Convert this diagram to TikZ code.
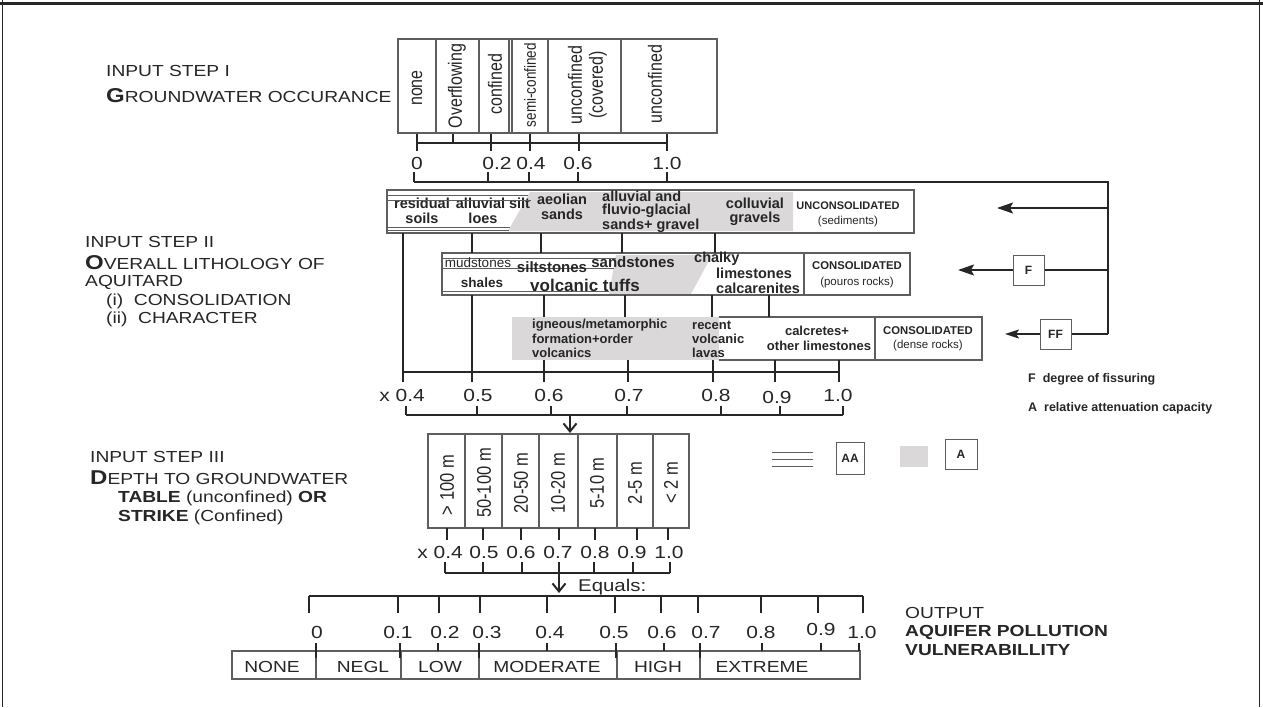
\documentclass[tikz,border=0pt]{standalone}
\usepackage{fontspec}
\setmainfont{Liberation Sans}
\newfontfamily\lab[FakeStretch=1.2]{Liberation Sans}
\usetikzlibrary{arrows.meta}
\definecolor{ink}{HTML}{262626}
\definecolor{boxc}{HTML}{5E5E5E}
\definecolor{greyfill}{HTML}{DAD8D8}
\newcommand\sz[1]{\fontsize{#1pt}{#1pt}\selectfont}
\newcommand\tall[1]{\scalebox{1}[1.2]{#1}}
\tikzset{
  lbl/.style={anchor=west, font=\lab\sz{16}},
  num/.style={font=\lab\sz{17.5}},
  cat/.style={font=\lab\sz{16}},
  rot/.style={rotate=90, font=\sz{16}},
  rotb/.style={rotate=90, font=\sz{16.5}},
  bx/.style={font=\bfseries\sz{14.5}},
  bxw/.style={anchor=west, font=\bfseries\sz{14.5}},
  conn/.style={draw=ink, line width=2pt},
  thinbox/.style={draw=boxc, line width=1.1pt},
  hatch/.style={draw=boxc, line width=0.8pt},
  legbox/.style={draw=boxc, line width=1pt, fill=white, minimum width=31pt, minimum height=30pt, font=\bfseries\sz{12}},
  lefttip/.style={-{Stealth[length=16pt,width=11pt,inset=3pt]}},
  downtip/.style={-{Straight Barb[length=8pt,width=13pt]}}
}
\begin{document}
\begin{tikzpicture}[x=1pt,y=-1pt, every node/.style={inner sep=0pt, text=ink}]
\useasboundingbox (0,0) rectangle (1263,707);
\fill[white] (0,0) rectangle (1263,707);
% frame
\draw[ink,line width=3pt] (0,3) -- (1263,3);
\draw[ink,line width=1pt] (2,0) -- (2,707);
\draw[ink,line width=1pt] (1259,0) -- (1259,707);

% ---------------- left labels
\node[lbl] (s1a) at (106,71) {INPUT STEP I};
\node[lbl] (s1b) at (106,96) {{\bfseries\sz{20}G}ROUNDWATER OCCURANCE};
\node[lbl] (s2a) at (85,242) {INPUT STEP II};
\node[lbl] (s2b) at (85,263) {{\bfseries\sz{20}O}VERALL LITHOLOGY OF};
\node[lbl] (s2c) at (85,282) {AQUITARD};
\node[lbl] (s2d) at (106,301) {(i)\ \ CONSOLIDATION};
\node[lbl] (s2e) at (106,319) {(ii)\ \ CHARACTER};
\node[lbl] (s3a) at (90,457) {INPUT STEP III};
\node[lbl] (s3b) at (90,478) {{\bfseries\sz{20}D}EPTH TO GROUNDWATER};
\node[lbl] (s3c) at (118,498) {\textbf{TABLE} (unconfined) \textbf{OR}};
\node[lbl] (s3d) at (118,517) {\textbf{STRIKE} (Confined)};
\node[lbl] (o1) at (905,613) {OUTPUT};
\node[lbl] (o2) at (905,632) {\textbf{AQUIFER POLLUTION}};
\node[lbl] (o3) at (905,650) {\textbf{VULNERABILLITY}};

% ---------------- step I
\draw[thinbox] (398,39) rectangle (717,133);
\foreach \x in {436,479,509,512,548,621} \draw[thinbox] (\x,39) -- (\x,133);
\node[rot] (g1) at (417,88) {\tall{none}};
\node[rot] (g2) at (457,86) {\tall{Overflowing}};
\node[rot] (g3) at (495,84) {\tall{confined}};
\node[rot, font=\sz{13.5}] (g4) at (530,85) {\tall{semi-confined}};
\node[rot] (g5a) at (575,85) {\tall{unconfined}};
\node[rot] (g5b) at (598,85) {\tall{(covered)}};
\node[rot] (g6) at (655,84) {\tall{unconfined}};
\draw[conn] (417,143) -- (667,143);
\foreach \x in {417,491,530,579,667} \draw[conn] (\x,134) -- (\x,151);
\draw[conn] (453,134) -- (453,143);
\node[num] (a0) at (417,163) {0};
\node[num] (a2) at (497,163) {0.2};
\node[num] (a4) at (531,163) {0.4};
\node[num] (a6) at (578,163) {0.6};
\node[num] (a10) at (667,163) {1.0};
\draw[conn] (414,182) -- (1108,182);
\draw[ink,line width=2.5pt] (1107,182) -- (1108,182) -- (1108,334);
\foreach \x in {414,488,529,578,667} \draw[conn] (\x,172) -- (\x,182);

% feedback arrows
\coordinate (fa) at (1108,208);
\coordinate (fb) at (1108,270);
\coordinate (fc) at (1108,334);
\coordinate (ta) at (997,208);
\coordinate (tb) at (958,270);
\coordinate (tc) at (1005,334);
\node[legbox] (Fb) at (1028.5,270) {F};
\node[legbox] (FFb) at (1055.5,334) {FF};
\draw[conn,lefttip] (fa) -- (ta);
\draw[conn] (fb) -- (Fb.east);
\draw[conn,lefttip] (Fb.west) -- (tb);
\draw[conn] (fc) -- (FFb.east);
\draw[conn,-{Stealth[length=14pt,width=9pt,inset=3pt]}] (FFb.west) -- (tc);

% legend
\node[anchor=west, font=\bfseries\sz{12.5}] (lgF) at (1028,379) {F\ \ degree of fissuring};
\node[anchor=west, font=\bfseries\sz{12.5}] (lgA) at (1028,408) {A\ \ relative attenuation capacity};
\draw[hatch] (772,452) -- (813,452);
\draw[hatch] (772,459) -- (813,459);
\draw[hatch] (772,466) -- (813,466);
\node[legbox, minimum width=28pt, minimum height=32pt] (AAb) at (850,458) {AA};
\fill[greyfill] (900,446) rectangle (928,467);
\node[legbox, minimum width=32pt, minimum height=30pt] (Ab) at (961,454) {A};

% ---------------- step II : unconsolidated
\fill[greyfill] (530,192) -- (793,192) -- (793,231) -- (508,231) -- cycle;
\draw[thinbox] (387,190) rectangle (914,233);
\draw[hatch] (387,195) -- (528,195);
\draw[hatch] (387,227) -- (510,227);
\draw[hatch] (387,230) -- (509,230);
\node[bx] (u1) at (422,203) {residual};
\node[bx] (u2) at (422,218) {soils};
\node[bx] (u3) at (493,203) {alluvial silt};
\draw[hatch] (387,200) -- (531,200);
\node[bx] (u4) at (483,218) {loes};
\node[bx] (u5) at (562,199) {aeolian};
\node[bx] (u6) at (562,214) {sands};
\node[bxw] (u7) at (602,196) {alluvial and};
\node[bxw] (u8) at (602,211) {fluvio-glacial};
\node[bxw] (u9) at (602,226) {sands+ gravel};
\node[bx] (u10) at (755,203) {colluvial};
\node[bx] (u11) at (755,219) {gravels};
\node[font=\bfseries\sz{11}] (u12) at (848,206) {UNCONSOLIDATED};
\node[font=\sz{11.5}] (u13) at (848,222) {(sediments)};

% consolidated porous
\fill[greyfill] (616,255) -- (712,255) -- (691,294) -- (609,294) -- cycle;
\draw[thinbox] (442,253) rectangle (910,295);
\draw[thinbox] (804,253) -- (804,295);
\draw[hatch] (442,258) -- (616,258);
\draw[hatch] (442,268) -- (614,268);
\draw[hatch] (442,291) -- (609,291);
\node[font=\sz{13.5}] (c1) at (478,263) {mudstones};
\node[font=\bfseries\sz{15}] (c2) at (552,267) {siltstones};
\node[font=\bfseries\sz{15}] (c3) at (633,262) {sandstones};
\node[bxw] (c4) at (694,259) {chalky};
\node[bxw] (c5) at (716,273) {limestones};
\node[bxw] (c6) at (716,288) {calcarenites};
\node[font=\bfseries\sz{13.5}] (c7) at (482,283) {shales};
\node[font=\bfseries\sz{17}] (c8) at (585,285) {volcanic tuffs};
\node[font=\bfseries\sz{11.3}] (c9) at (857,266) {CONSOLIDATED};
\node[font=\sz{11.5}] (c10) at (857,283) {(pouros rocks)};

% consolidated dense
\fill[greyfill] (512,317) rectangle (719,360);
\draw[thinbox] (719,317) -- (982,317) -- (982,360) -- (719,360);
\draw[thinbox] (875,317) -- (875,360);
\node[anchor=west,font=\bfseries\sz{13}] (d1) at (532,325) {igneous/metamorphic};
\node[anchor=west,font=\bfseries\sz{13}] (d2) at (532,339) {formation+order};
\node[anchor=west,font=\bfseries\sz{13}] (d3) at (532,353) {volcanics};
\node[anchor=west,font=\bfseries\sz{13}] (d4) at (692,325) {recent};
\node[anchor=west,font=\bfseries\sz{13}] (d5) at (692,339) {volcanic};
\node[anchor=west,font=\bfseries\sz{13}] (d6) at (692,353) {lavas};
\node[font=\bfseries\sz{13}] (d7) at (817,331) {calcretes+};
\node[font=\bfseries\sz{13}] (d8) at (819,346) {other limestones};
\node[font=\bfseries\sz{11.3}] (d9) at (928,331) {CONSOLIDATED};
\node[font=\sz{11.5}] (d10) at (928,346) {(dense rocks)};

% verticals
\draw[conn] (403,233) -- (403,382);
\draw[conn] (472,233) -- (472,253);
\draw[conn] (472,295) -- (472,382);
\draw[conn] (541,233) -- (541,253);
\draw[conn] (544,295) -- (544,317);
\draw[conn] (544,360) -- (544,382);
\draw[conn] (622,233) -- (622,253);
\draw[conn] (625,295) -- (625,317);
\draw[conn] (628,360) -- (628,382);
\draw[conn] (715,233) -- (715,253);
\draw[conn] (712,295) -- (712,317);
\draw[conn] (713,360) -- (713,382);
\draw[conn] (769,295) -- (769,317);
\draw[conn] (775,360) -- (775,382);
\draw[conn] (839,360) -- (839,382);
\draw[conn] (403,372) -- (839,372);
\node[num, anchor=east] (b4) at (425,395) {x 0.4};
\node[num] (b5) at (478,395) {0.5};
\node[num] (b6) at (549,395) {0.6};
\node[num] (b7) at (629,395) {0.7};
\node[num] (b8) at (716,395) {0.8};
\node[num] (b9) at (777,397) {0.9};
\node[num] (b10) at (838,395) {1.0};
\draw[conn] (406,415) -- (843,415);
\foreach \x in {406,477,551,627,721,780,843} \draw[conn] (\x,406) -- (\x,415);
\coordinate (ar1) at (570,415);
\coordinate (ar1t) at (570,433);
\draw[conn,downtip] (ar1) -- (ar1t);

% ---------------- step III
\draw[thinbox] (428,434) rectangle (689,528);
\foreach \x in {465,502,539,578,617,653} \draw[thinbox] (\x,434) -- (\x,528);
\node[rotb] (h1) at (447,485) {\tall{> 100 m}};
\node[rotb] (h2) at (484,483) {\tall{50-100 m}};
\node[rotb] (h3) at (521,483) {\tall{20-50 m}};
\node[rotb] (h4) at (558,483) {\tall{10-20 m}};
\node[rotb] (h5) at (597,483) {\tall{5-10 m}};
\node[rotb] (h6) at (635,483) {\tall{2-5 m}};
\node[rotb] (h7) at (671,483) {\tall{< 2 m}};
\foreach \x in {447,483,521,559,595,637,668} \draw[conn] (\x,528) -- (\x,540);
\node[num, anchor=east] (k4) at (463,552) {x 0.4};
\node[num] (k5) at (484,552) {0.5};
\node[num] (k6) at (521,552) {0.6};
\node[num] (k7) at (558,552) {0.7};
\node[num] (k8) at (595,552) {0.8};
\node[num] (k9) at (632,552) {0.9};
\node[num] (k10) at (669,552) {1.0};
\draw[conn] (445,573) -- (670,573);
\foreach \x in {445,483,522,559,594,633,670} \draw[conn] (\x,562) -- (\x,573);
\coordinate (ar2) at (559,573);
\coordinate (ar2t) at (559,593);
\draw[conn,downtip] (ar2) -- (ar2t);
\node[anchor=west, font=\lab\sz{17}] (eq) at (578,587) {Equals:};

% ---------------- output
\draw[conn] (309,596) -- (863,596);
\foreach \x in {309,398,439,480,547,615,661,698,761,818,863} \draw[conn] (\x,596) -- (\x,613);
\node[num] (p0) at (317,632) {0};
\node[num] (p1) at (398,632) {0.1};
\node[num] (p2) at (445,632) {0.2};
\node[num] (p3) at (487,632) {0.3};
\node[num] (p4) at (550,632) {0.4};
\node[num] (p5) at (614,632) {0.5};
\node[num] (p6) at (662,632) {0.6};
\node[num] (p7) at (706,632) {0.7};
\node[num] (p8) at (761,632) {0.8};
\node[num] (p9) at (821,629) {0.9};
\node[num] (p10) at (862,632) {1.0};
\draw[thinbox] (232,651) rectangle (860,679);
\foreach \x in {316,401,479,617,700} \draw[thinbox] (\x,651) -- (\x,679);
\foreach \x in {316,400,479,616,700} \draw[conn] (\x,643) -- (\x,658);
\foreach \x in {438,547,664,762,821,859} \draw[conn] (\x,643) -- (\x,651);
\node[cat] (q1) at (272,667) {NONE};
\node[cat] (q2) at (363,667) {NEGL};
\node[cat] (q3) at (440,667) {LOW};
\node[cat] (q4) at (547,667) {MODERATE};
\node[cat] (q5) at (658,667) {HIGH};
\node[cat] (q6) at (762,667) {EXTREME};
\end{tikzpicture}
\end{document}
